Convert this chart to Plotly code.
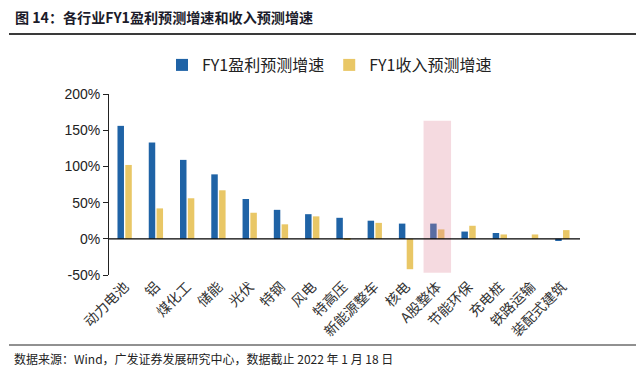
import plotly.graph_objects as go

categories = ["动力电池", "铝", "煤化工", "储能", "光伏", "特钢", "风电", "特高压",
              "新能源整车", "核电", "A股整体", "节能环保", "充电桩", "铁路运输", "装配式建筑"]
profit_growth = [156, 133, 109, 89, 55, 40, 34, 29, 25, 21, 21, 10, 8, 0, -3]
revenue_growth = [102, 42, 56, 67, 36, 20, 31, -1, 22, -42, 13, 18, 6, 6, 12]
y_ticks = [-50, 0, 50, 100, 150, 200]
y_tick_labels = ["-50%", "0%", "50%", "100%", "150%", "200%"]
highlight = "A股整体"

BLUE = "#1F63A6"
YELLOW = "#E9C766"

OFF = 8  # default page body margin
W, H = 644 - OFF, 378 - OFF
# plot area in reference page pixels
PX0, PX1, PY0, PY1 = 109, 578, 94, 275


def px_x(p):
    return (p - OFF) / W


def px_y(p):
    return 1 - (p - OFF) / H


fig = go.Figure()
fig.add_trace(go.Bar(x=categories, y=profit_growth, name="FY1盈利预测增速",
                     marker=dict(color=BLUE, line=dict(width=0))))
fig.add_trace(go.Bar(x=categories, y=revenue_growth, name="FY1收入预测增速",
                     marker=dict(color=YELLOW, line=dict(width=0))))

hi = categories.index(highlight)
fig.add_shape(type="rect", xref="x", yref="y", x0=hi - 0.44, x1=hi + 0.44,
              y0=-47, y1=163, fillcolor="rgba(222,132,152,0.30)",
              line=dict(width=0), layer="above")
fig.add_shape(type="line", xref="paper", yref="y", x0=px_x(PX0), x1=px_x(PX1 + 2),
              y0=0, y1=0, line=dict(color="#000000", width=1.3), layer="above")
# title underline and footer line
fig.add_shape(type="line", xref="paper", yref="paper", x0=px_x(9), x1=px_x(637),
              y0=px_y(34), y1=px_y(34), line=dict(color="#3a3a3a", width=2),
              layer="above")
fig.add_shape(type="line", xref="paper", yref="paper", x0=px_x(9), x1=px_x(637),
              y0=px_y(345), y1=px_y(345), line=dict(color="#222222", width=1),
              layer="above")

fig.add_annotation(text="<b>图 14：各行业FY1盈利预测增速和收入预测增速</b>",
                   xref="paper", yref="paper", x=px_x(13), y=px_y(17),
                   xanchor="left", yanchor="middle", showarrow=False,
                   font=dict(family="Noto Sans CJK SC", size=14.1, color="#1b1b2a"))
fig.add_annotation(text="数据来源：Wind，广发证券发展研究中心，数据截止 2022 年 1 月 18 日",
                   xref="paper", yref="paper", x=px_x(12), y=px_y(358),
                   xanchor="left", yanchor="middle", showarrow=False,
                   font=dict(family="Noto Sans CJK SC", size=12, color="#222222"))

fig.update_layout(
    width=W, height=H,
    margin=dict(l=0, r=0, t=0, b=0, autoexpand=False),
    paper_bgcolor="white", plot_bgcolor="rgba(0,0,0,0)",
    barmode="group", bargap=0.5, bargroupgap=0.17,
    showlegend=True,
    legend=dict(orientation="h", x=px_x(162), y=px_y(48), xanchor="left", yanchor="top",
                font=dict(family="Noto Sans CJK SC", size=16, color="#222222"),
                itemwidth=30, bgcolor="rgba(0,0,0,0)"),
    font=dict(family="Liberation Sans, Arial", color="#222222"),
)
fig.update_yaxes(domain=[px_y(PY1), px_y(PY0)],
                 range=[-50, 200], tickmode="array", tickvals=y_ticks, ticktext=y_tick_labels,
                 showgrid=False, zeroline=False, showline=True, linecolor="#222222",
                 linewidth=1, ticks="outside", ticklen=5, tickcolor="#222222",
                 tickfont=dict(family="Liberation Sans, Arial", size=14, color="#222222"))
fig.update_xaxes(domain=[px_x(PX0), px_x(PX1)],
                 showgrid=False, zeroline=False, showline=False, ticks="",
                 tickangle=-45,
                 tickfont=dict(family="Noto Sans CJK SC", size=14, color="#333333"))

fig.write_html("out.html")
